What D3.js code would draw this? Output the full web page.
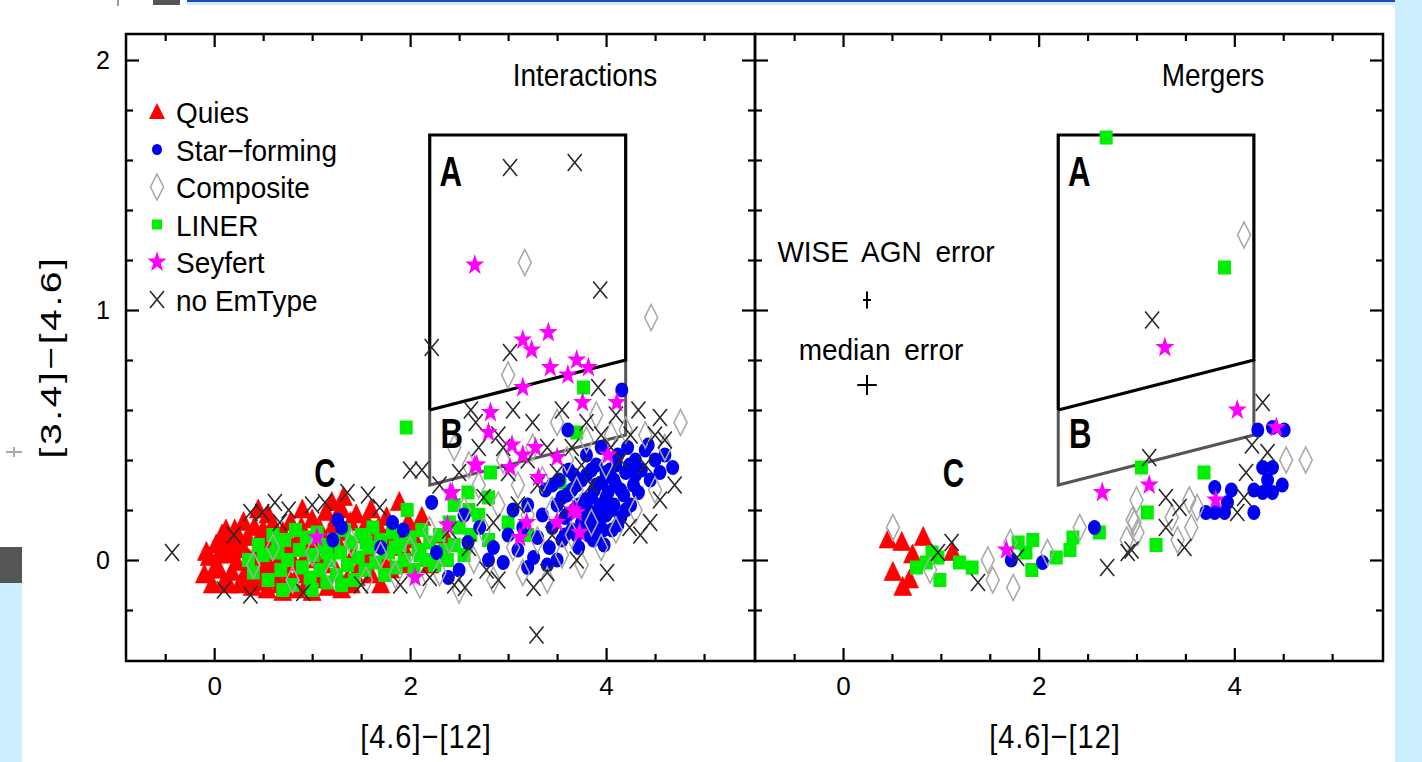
<!DOCTYPE html>
<html>
<head>
<meta charset="utf-8">
<script src="https://cdn.jsdelivr.net/npm/d3@7"></script>
<style>
body{margin:0;background:#fff;}
svg{display:block;font-family:"Liberation Sans",Arial,sans-serif;}
</style>
</head>
<body>
<svg id="chart" width="1422" height="762"></svg>
<script>
// ---- data: [4.6]-[12] vs [3.4]-[4.6] ----
var quiesInt = [
  [-0.1,-0.06],[-0.05,0.01],[-0.02,-0.1],[0.02,0.06],[0.05,-0.04],[0.08,0.1],[0.1,-0.09],[0.13,0.02],
  [0.16,0.07],[0.18,-0.05],[0.21,0.12],[0.23,-0.01],[0.26,-0.1],[0.29,0.05],[0.31,-0.06],[0.34,0.09],
  [0.36,0.0],[0.39,-0.11],[0.41,0.13],[0.44,0.04],[0.46,-0.07],[0.49,0.1],[0.51,-0.02],[0.54,-0.12],
  [0.57,0.07],[0.6,0.14],[0.62,-0.04],[0.65,0.02],[0.67,-0.1],[0.7,0.11],[0.73,0.05],[0.76,-0.07],
  [0.78,0.15],[0.81,-0.01],[0.84,-0.12],[0.86,0.08],[0.89,0.13],[0.92,-0.05],[0.95,0.03],[0.97,-0.1],
  [1.0,0.16],[1.03,0.06],[1.06,-0.08],[1.08,0.12],[1.11,-0.02],[1.14,0.19],[1.16,-0.11],[1.19,0.09],
  [1.22,0.14],[1.25,-0.05],[1.27,0.04],[1.3,0.2],[1.33,0.11],[1.36,-0.08],[1.39,0.15],[1.42,0.02],
  [1.45,0.18],[1.48,-0.03],[1.52,0.1],[1.56,0.15],[1.6,-0.06],[1.64,0.07],[1.68,0.13],[1.72,0.0],
  [1.76,0.17],[1.8,-0.04],[1.85,0.11],[1.89,0.23],[1.93,0.05],[1.98,0.15],[2.05,0.08],[2.12,0.17],
  [2.2,-0.02],[2.35,0.1],[0.3,0.15],[0.55,0.18],[0.9,0.2],[1.2,0.23],[1.32,0.25],[0.12,0.12],
  [0.7,-0.13],[1.0,-0.13],[1.3,-0.12],[0.45,0.2],[1.6,0.2],[0.0,-0.04],[0.15,-0.1],[0.25,0.09],
  [0.35,-0.04],[0.48,-0.09],[0.58,0.0],[0.75,0.02],[0.95,-0.09],[1.1,0.09],[1.26,0.07],[1.45,-0.07],
  [1.58,0.02],[1.75,0.08],[1.95,-0.02],[0.05,0.02],[-0.08,0.03],[0.2,0.04],[0.4,-0.02],[0.6,-0.08],
  [0.8,0.05],[0.3,-0.08],[0.1,0.05],[0.5,0.12],[0.85,-0.06],[1.05,0.0],[1.25,0.17],[1.4,-0.1],[1.7,-0.1]
];
var linerInt = [
  [0.35,0.0],[0.4,-0.05],[0.45,0.06],[0.5,0.02],[0.55,-0.08],[0.6,0.1],[0.63,0.03],[0.68,-0.04],
  [0.72,0.08],[0.75,0.0],[0.8,-0.1],[0.83,0.12],[0.87,0.04],[0.9,-0.03],[0.94,0.09],[0.98,-0.07],
  [1.01,0.02],[1.05,0.11],[1.08,-0.04],[1.12,0.06],[1.15,-0.09],[1.18,0.0],[1.22,0.08],[1.25,-0.06],
  [1.29,0.03],[1.33,0.12],[1.36,-0.02],[1.4,0.07],[1.43,-0.08],[1.47,0.01],[1.5,0.1],[1.54,-0.04],
  [1.58,0.05],[1.62,0.13],[1.65,-0.01],[1.7,0.08],[1.74,-0.06],[1.78,0.03],[1.82,0.11],[1.86,-0.03],
  [1.9,0.06],[1.94,0.0],[1.97,0.2],[2.0,0.09],[2.04,-0.04],[2.08,0.04],[2.12,0.12],[2.16,0.0],
  [2.2,0.07],[2.25,-0.02],[2.3,0.1],[2.35,0.04],[2.4,0.15],[2.45,0.06],[2.5,0.13],[2.55,0.02],
  [2.62,0.1],[2.7,0.18],[2.8,0.08],[1.96,0.53],[3.77,0.69],[3.7,0.51],[2.82,0.35],[2.59,0.27],
  [2.8,0.25],[3.53,0.31],[2.6,0.2],[2.45,0.22],[1.0,-0.12],[1.3,-0.1],[0.7,-0.12],[3.0,0.15],[3.2,0.1],
  [1.15,0.03],[1.55,0.07],[1.85,0.05],[2.1,0.02],[2.38,0.0],[0.65,0.05]
];
var sfInt = [
  [1.21,0.08],[1.26,0.16],[1.3,0.13],[1.82,0.15],[1.93,0.12],[2.22,0.23],[2.27,0.03],[2.39,-0.07],
  [2.59,0.07],[2.71,0.13],[2.55,0.18],[2.85,0.05],[2.95,-0.01],[3.0,0.1],[3.05,0.2],[3.1,0.04],
  [3.15,0.13],[3.2,0.22],[3.26,0.01],[3.3,0.09],[3.35,0.18],[3.38,0.28],[3.42,0.05],[3.45,0.13],
  [3.5,0.22],[3.52,0.32],[3.55,0.08],[3.58,0.17],[3.61,0.52],[3.6,0.26],[3.62,0.36],[3.65,0.12],
  [3.68,0.2],[3.7,0.3],[3.72,0.05],[3.75,0.15],[3.78,0.24],[3.8,0.34],[3.82,0.1],[3.85,0.19],
  [3.87,0.08],[3.88,0.28],[3.9,0.38],[3.92,0.14],[3.94,0.22],[3.96,0.31],[3.98,0.06],[4.0,0.18],
  [4.02,0.27],[4.04,0.36],[4.06,0.12],[4.08,0.22],[4.1,0.3],[4.12,0.42],[4.15,0.17],[4.18,0.26],
  [4.2,0.35],[4.22,0.45],[4.25,0.22],[4.28,0.3],[4.3,0.4],[4.33,0.27],[4.36,0.36],[4.4,0.44],
  [4.43,0.46],[4.45,0.32],[4.5,0.4],[4.55,0.35],[4.6,0.42],[4.68,0.37],[4.16,0.68],[3.5,0.0],
  [3.4,-0.02],[3.2,-0.03],[2.8,0.0],[2.5,-0.04],[1.7,0.05],[3.95,0.45],[3.8,0.42],
  [3.65,0.28],[3.75,0.32],[3.85,0.25],[3.95,0.17],[4.05,0.2],[4.15,0.28],[3.7,0.1],[3.9,0.1],
  [4.0,0.35],[4.1,0.38],[3.6,0.18],[3.8,0.2],[4.0,0.25],[3.9,0.3],[4.2,0.2],
  [3.72,0.22],[3.83,0.15],[3.97,0.12],[4.08,0.32],[4.24,0.38],[3.67,0.34],[3.58,0.1],[4.12,0.14],
  [3.85,0.36],[4.3,0.34],[3.55,0.25],[3.45,0.3]
];
var compInt = [
  [0.4,-0.02],[0.6,0.05],[0.8,-0.08],[1.0,0.03],[1.2,-0.05],[1.4,0.07],[1.55,-0.08],[1.7,0.02],
  [1.85,-0.06],[2.0,0.04],[2.1,-0.1],[2.2,0.12],[2.3,-0.05],[2.4,0.08],[2.5,-0.12],[2.55,0.2],
  [2.65,0.0],[2.7,0.3],[2.75,0.12],[2.85,-0.08],[2.9,0.22],[2.95,0.4],[3.0,0.74],[3.05,0.05],
  [3.1,0.3],[3.15,-0.05],[3.2,0.18],[3.25,0.45],[3.3,0.08],[3.35,0.32],[3.4,-0.08],[3.45,0.2],
  [3.5,0.55],[3.55,0.02],[3.6,0.4],[3.65,0.1],[3.7,0.28],[3.75,-0.02],[3.8,0.48],[3.85,0.15],
  [3.9,0.58],[3.95,0.05],[4.0,0.38],[4.05,0.5],[4.1,0.12],[4.2,0.52],[4.3,0.2],[4.4,0.5],
  [4.5,0.28],[4.6,0.45],[4.76,0.55],[4.46,0.97],[3.17,1.19],[2.45,0.45],[2.6,0.38]
];
var noemInt = [
  [-0.43,0.03],[0.37,0.19],[0.49,0.19],[0.62,0.23],[0.76,0.2],[0.67,0.15],[1.13,0.23],[1.36,0.27],
  [1.57,0.26],[1.69,0.21],[2.0,0.36],[2.12,0.36],[0.37,-0.14],[0.91,-0.13],[2.2,-0.07],[2.56,-0.11],
  [2.78,-0.04],[3.02,1.57],[3.68,1.59],[3.94,1.08],[2.22,0.85],[3.29,-0.3],[4.01,-0.05],[3.26,-0.11],
  [3.02,0.83],[3.92,0.69],[4.33,0.6],[4.55,0.57],[4.6,0.48],[4.55,0.24],[4.24,0.13],[4.7,0.3],
  [4.45,0.15],[4.35,0.1],[2.3,0.3],[2.4,0.12],[2.5,0.35],[2.6,0.05],[2.7,0.45],[2.75,0.25],
  [2.85,0.15],[2.9,0.5],[3.0,0.35],[3.05,0.6],[3.1,0.22],[3.2,0.4],[3.25,0.55],[3.3,0.3],
  [3.4,0.45],[3.45,0.1],[3.5,0.35],[3.55,0.6],[3.6,0.2],[3.65,0.45],[3.75,0.38],[3.8,0.55],
  [3.85,0.3],[3.95,0.5],[4.05,0.45],[4.1,0.58],[4.15,0.4],[4.25,0.5],[4.4,0.38],[4.5,0.5],
  [3.7,0.0],[3.4,-0.05],[2.9,-0.08],[2.45,-0.1],[1.9,-0.1],[1.5,-0.1],[0.2,0.1],[0.1,-0.12],
  [1.0,0.22],[2.95,0.45],[2.62,0.6],[2.67,0.55]
];
var seyInt = [
  [2.66,1.18],[3.15,0.88],[3.24,0.84],[3.41,0.91],[3.43,0.77],[3.61,0.74],[3.7,0.8],[3.82,0.77],
  [3.15,0.69],[3.76,0.63],[4.11,0.63],[2.82,0.59],[2.8,0.51],[3.04,0.46],[3.28,0.45],[3.15,0.42],
  [3.5,0.41],[2.66,0.38],[3.02,0.37],[3.31,0.33],[2.43,0.27],[2.38,0.14],[3.19,0.15],[3.5,0.15],
  [3.7,0.19],[3.73,0.11],[3.12,0.09],[4.02,0.42],[3.66,0.2],[1.05,0.09],[2.05,-0.07],[2.41,0.27],
  [2.68,0.38]
];

var quiesMrg = [[0.46,0.08],[0.6,0.07],[0.82,0.09],[0.71,0.02],[0.51,-0.05],[0.61,-0.11],[0.68,-0.08],[1.12,0.03]];
var linerMrg = [
  [0.75,-0.03],[0.85,-0.01],[0.91,0.03],[0.97,0.01],[0.99,-0.08],[1.19,-0.01],[1.32,-0.03],[1.79,0.07],
  [1.94,0.08],[1.87,0.03],[1.93,-0.04],[2.18,0.01],[2.32,0.04],[2.35,0.09],[2.62,0.11],[2.69,1.69],
  [3.9,1.17],[3.69,0.35],[3.05,0.37],[3.11,0.19],[3.2,0.06]
];
var sfMrg = [
  [2.57,0.13],[2.04,-0.01],[1.72,0.0],[4.24,0.52],[4.51,0.52],[4.39,0.53],[4.29,0.37],[4.39,0.37],
  [4.34,0.32],[4.49,0.3],[4.2,0.28],[4.39,0.27],[4.29,0.27],[4.2,0.19],[3.8,0.29],[3.97,0.28],
  [3.71,0.19],[3.8,0.19],[3.9,0.19],[3.93,0.23]
];
var compMrg = [
  [0.51,0.13],[0.89,-0.04],[1.48,0.0],[1.53,-0.08],[1.74,-0.11],[1.71,0.07],[2.09,0.03],[2.42,0.13],
  [2.98,0.15],[4.1,1.3],[4.53,0.4],[4.73,0.4],[3.0,0.24],[2.96,0.16],[3.01,0.11],[3.36,0.17],
  [3.54,0.24],[3.56,0.13],[3.62,0.21],[3.42,0.08],[2.9,0.08]
];
var noemMrg = [
  [1.11,0.07],[0.97,0.03],[1.38,-0.09],[1.78,0.01],[2.7,-0.03],[2.91,0.03],[3.16,0.96],[4.29,0.63],
  [4.18,0.46],[4.34,0.43],[3.13,0.41],[3.3,0.25],[3.44,0.21],[3.49,0.05],[4.03,0.19],[4.12,0.35],
  [3.3,0.13],[2.95,0.04],[4.1,0.25]
];
var seyMrg = [[2.65,0.27],[1.67,0.04],[3.29,0.85],[4.03,0.6],[4.43,0.53],[3.81,0.24],[3.13,0.3]];

// boxes A and B (x, y corners)
var boxA = [[2.2,0.6],[2.2,1.7],[4.2,1.7],[4.2,0.8]];
var boxB = [[2.2,0.6],[2.2,0.3],[4.2,0.5],[4.2,0.8]];

// error bars: [x, y, dx, dy]
var errWise = [0.245, 1.04, 0.04, 0.034];
var errMedian = [0.245, 0.70, 0.1, 0.04];

var legendNames = ["Quies", "Star\u2212forming", "Composite", "LINER", "Seyfert", "no EmType"];
var xTicksMajor = [0, 2, 4];
var xTicksMinor = [-0.5, 0.5, 1, 1.5, 2.5, 3, 3.5, 4.5, 5];
var yTicksMajor = [0, 1, 2];
var yTicksMinor = [-0.2, 0.2, 0.4, 0.6, 0.8, 1.2, 1.4, 1.6, 1.8];

var svg = d3.select("#chart");

// ---- page decoration around the figure ----
svg.append("rect").attr("x",1395).attr("y",0).attr("width",27).attr("height",762).attr("fill","#cdeefe");
svg.append("rect").attr("x",0).attr("y",583).attr("width",22).attr("height",179).attr("fill","#cdeefe");
svg.append("rect").attr("x",0).attr("y",547).attr("width",22).attr("height",36).attr("fill","#555");
svg.append("rect").attr("x",187).attr("y",0).attr("width",1208).attr("height",5).attr("fill","#cdeefe");
svg.append("rect").attr("x",187).attr("y",0).attr("width",1208).attr("height",2).attr("fill","#1f45c8");
svg.append("rect").attr("x",153).attr("y",0).attr("width",27).attr("height",5).attr("fill","#555");
svg.append("rect").attr("x",117).attr("y",0).attr("width",2).attr("height",6).attr("fill","#999");
svg.append("path").attr("d","M6,452H22M14,447V457").attr("stroke","#aaa").attr("stroke-width",2);

// ---- marker shapes ----
function triPath(){ return "M0,-11L9,8L-9,8Z"; }
function diamondPath(){ return "M0,-13L6.5,0L0,13L-6.5,0Z"; }
function crossPath(){ return "M-7,-8.5L7,8.5M7,-8.5L-7,8.5"; }
function starPath(){
  var p = [];
  for (var i = 0; i < 10; i++) {
    var r = i % 2 ? 4 : 10, a = -Math.PI/2 + i*Math.PI/5;
    p.push([r*Math.cos(a), r*Math.sin(a)*1.1]);
  }
  return "M" + p.join("L") + "Z";
}

var styles = {
  quies: function(s){ s.append("path").attr("d",triPath()).attr("fill","#ff0000").attr("stroke","#ee0000").attr("stroke-width",0.6); },
  sf:    function(s){ s.append("ellipse").attr("rx",6.5).attr("ry",7.5).attr("fill","#0000f0"); },
  comp:  function(s){ s.append("path").attr("d",diamondPath()).attr("fill","none").attr("stroke","#a8a8a8").attr("stroke-width",1.6); },
  liner: function(s){ s.append("rect").attr("x",-6.5).attr("y",-7).attr("width",13).attr("height",14).attr("fill","#00ee00"); },
  sey:   function(s){ s.append("path").attr("d",starPath()).attr("fill","#ff00ff"); },
  noem:  function(s){ s.append("path").attr("d",crossPath()).attr("fill","none").attr("stroke","#2a2a2a").attr("stroke-width",1.6); }
};
var legendStyles = {
  quies: function(s){ s.append("path").attr("d","M0,-9L8,7L-8,7Z").attr("fill","#ff0000"); },
  sf:    function(s){ s.append("ellipse").attr("rx",5).attr("ry",5.5).attr("fill","#0000f0"); },
  comp:  styles.comp,
  liner: function(s){ s.append("rect").attr("x",-5).attr("y",-5).attr("width",10).attr("height",10).attr("fill","#00ee00"); },
  sey:   styles.sey,
  noem:  styles.noem
};

var y = d3.scaleLinear().domain([-0.404, 2.104]).range([661, 34]);

function text(g, x0, y0, str, size, anchor, sx, sy, weight) {
  return g.append("text")
    .attr("transform", "translate(" + x0 + "," + y0 + ") scale(" + sx + "," + sy + ")")
    .attr("text-anchor", anchor)
    .attr("font-size", size)
    .attr("font-weight", weight || "normal")
    .attr("fill", "#000")
    .text(str);
}

function drawPanel(x, sets, title, showYLabels) {
  var g = svg.append("g");
  var x0 = x.range()[0], x1 = x.range()[1];

  // boxes
  var line = d3.line().x(function(d){ return x(d[0]); }).y(function(d){ return y(d[1]); });
  g.append("path").attr("d", line(boxB)).attr("fill","none").attr("stroke","#555").attr("stroke-width",3);
  g.append("path").attr("d", line(boxA.concat([boxA[0]]))).attr("fill","none").attr("stroke","#000").attr("stroke-width",3.2);

  // points in draw order
  ["quies","liner","sf","comp","noem","sey"].forEach(function(k){
    g.append("g").selectAll("g").data(sets[k]).enter().append("g")
      .attr("transform", function(d){ return "translate(" + x(d[0]) + "," + y(d[1]) + ")"; })
      .each(function(){ styles[k](d3.select(this)); });
  });

  // frame
  g.append("rect").attr("x",x0).attr("y",34).attr("width",x1-x0).attr("height",627)
    .attr("fill","none").attr("stroke","#000").attr("stroke-width",2.5);

  function clean(a){ a.select(".domain").remove(); a.selectAll("line").attr("stroke-width",2.2); }
  var fmt = d3.format("d");
  g.append("g").attr("transform","translate(0,661)")
    .call(d3.axisBottom(x).tickValues(xTicksMinor).tickSizeInner(-7).tickSizeOuter(0).tickFormat("")).call(clean);
  var xb = g.append("g").attr("transform","translate(0,661)")
    .call(d3.axisBottom(x).tickValues(xTicksMajor).tickSizeInner(-13).tickSizeOuter(0).tickPadding(16).tickFormat(fmt)).call(clean);
  xb.attr("font-size",26).attr("font-family","Liberation Sans, Arial, sans-serif");
  g.append("g").attr("transform","translate(0,34)")
    .call(d3.axisTop(x).tickValues(xTicksMinor).tickSizeInner(-7).tickSizeOuter(0).tickFormat("")).call(clean);
  g.append("g").attr("transform","translate(0,34)")
    .call(d3.axisTop(x).tickValues(xTicksMajor).tickSizeInner(-13).tickSizeOuter(0).tickFormat("")).call(clean);
  [[x0, d3.axisLeft, -1], [x1, d3.axisRight, 1]].forEach(function(s){
    g.append("g").attr("transform","translate(" + s[0] + ",0)")
      .call(s[1](y).tickValues(yTicksMinor).tickSizeInner(-7).tickSizeOuter(0).tickFormat("")).call(clean);
    var ya = g.append("g").attr("transform","translate(" + s[0] + ",0)")
      .call(s[1](y).tickValues(yTicksMajor).tickSizeInner(-13).tickSizeOuter(0).tickPadding(16).tickFormat(fmt)).call(clean);
    ya.attr("font-size",25).attr("font-family","Liberation Sans, Arial, sans-serif");
    if (!(showYLabels && s[2] < 0)) ya.selectAll("text").remove();
  });

  // labels
  text(g, x1 - 170, 86, title, 28, "middle", 1, 1.12);
  text(g, x(2.2) + 21, y(1.7) + 51, "A", 40, "middle", 0.78, 1.08, "bold");
  text(g, x(2.2) + 22, y(0.6) + 38, "B", 40, "middle", 0.78, 1.08, "bold");
  text(g, x(1.13), y(0.3) + 2, "C", 38, "middle", 0.78, 1.05, "bold");
  text(g, x0 + 300, 748, "[4.6]\u2212[12]", 29, "middle", 1, 1.15).attr("letter-spacing", 1);
  return g;
}

var xL = d3.scaleLinear().domain([-0.9, 5.52]).range([126, 755]);
var xR = d3.scaleLinear().domain([-0.9, 5.52]).range([755, 1383]);

var gl = drawPanel(xL, {quies: quiesInt, liner: linerInt, sf: sfInt, comp: compInt, noem: noemInt, sey: seyInt}, "Interactions", true);
var gr = drawPanel(xR, {quies: quiesMrg, liner: linerMrg, sf: sfMrg, comp: compMrg, noem: noemMrg, sey: seyMrg}, "Mergers", false);

// y axis title
svg.append("text")
  .attr("transform","translate(61,357) scale(1,1.3) rotate(-90)")
  .attr("text-anchor","middle").attr("font-size",30).attr("letter-spacing",2)
  .text("[3.4]\u2212[4.6]");

// legend
var legendKeys = ["quies","sf","comp","liner","sey","noem"];
var leg = gl.append("g");
legendKeys.forEach(function(k, i){
  var ly = 112 + i * 37.5;
  legendStyles[k](leg.append("g").attr("transform","translate(157," + ly + ")"));
  text(leg, 176, ly + 11, legendNames[i], 28, "start", 1, 1.05);
});

// error bars in Mergers panel
[errWise, errMedian].forEach(function(e){
  gr.append("path")
    .attr("d", "M" + xR(e[0]-e[2]) + "," + y(e[1]) + "H" + xR(e[0]+e[2]) +
               "M" + xR(e[0]) + "," + y(e[1]+e[3]) + "V" + y(e[1]-e[3]))
    .attr("stroke","#000").attr("stroke-width",2);
});
text(gr, 886, 262, "WISE AGN error", 28, "middle", 1, 1.05).attr("word-spacing", 6);
text(gr, 881, 360, "median error", 28, "middle", 1, 1.05).attr("word-spacing", 6);
</script>
</body>
</html>
